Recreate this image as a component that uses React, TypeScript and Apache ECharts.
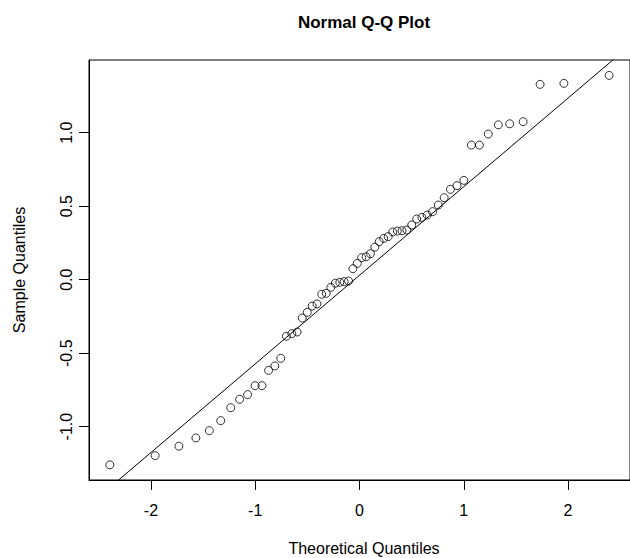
import React, { useEffect, useRef } from "react";
import * as echarts from "echarts";

const theoretical = [
  -2.394, -1.96, -1.732, -1.569, -1.44, -1.331, -1.235, -1.15, -1.073, -1.001,
  -0.935, -0.872, -0.812, -0.755, -0.701, -0.649, -0.598, -0.549, -0.501, -0.454,
  -0.408, -0.363, -0.319, -0.275, -0.232, -0.189, -0.147, -0.105, -0.063, -0.021,
  0.021, 0.063, 0.105, 0.147, 0.189, 0.232, 0.275, 0.319, 0.363, 0.408,
  0.454, 0.501, 0.549, 0.598, 0.649, 0.701, 0.755, 0.812, 0.872, 0.935,
  1.001, 1.073, 1.15, 1.235, 1.331, 1.44, 1.569, 1.732, 1.96, 2.394,
];
const sample = [
  -1.26, -1.197, -1.133, -1.077, -1.027, -0.959, -0.871, -0.814, -0.782, -0.721,
  -0.721, -0.617, -0.587, -0.535, -0.385, -0.367, -0.356, -0.261, -0.222, -0.179,
  -0.165, -0.099, -0.093, -0.052, -0.024, -0.018, -0.013, -0.009, 0.075, 0.111,
  0.15, 0.156, 0.177, 0.222, 0.259, 0.281, 0.293, 0.325, 0.331, 0.333,
  0.338, 0.372, 0.413, 0.424, 0.44, 0.463, 0.508, 0.558, 0.615, 0.64,
  0.676, 0.916, 0.916, 0.991, 1.054, 1.061, 1.075, 1.329, 1.336, 1.39,
];
const xTicks = [-2, -1, 0, 1, 2];
const yTicks = [-1, -0.5, 0, 0.5, 1];
const lineIntercept = 0.03;
const lineSlope = 0.603;
const lineXs = [-3, 3];

const FONT = "Liberation Sans, Arial, sans-serif";

export default function App() {
  const ref = useRef<HTMLDivElement>(null);
  useEffect(() => {
    document.body.style.margin = "0";
    const chart = echarts.init(ref.current!, null, { renderer: "svg" });
    chart.setOption({
      animation: false,
      backgroundColor: "#fff",
      grid: {
        left: 89, top: 60, width: 550, height: 420,
        show: true, borderColor: "#000", borderWidth: 1, backgroundColor: "transparent",
      },
      xAxis: {
        type: "value", min: -2.594, max: 2.594,
        splitLine: { show: false },
        axisLine: { show: true, onZero: false, lineStyle: { color: "#000" } },
        axisTick: { show: true, length: 10, lineStyle: { color: "#000" }, customValues: xTicks },
        axisLabel: { customValues: xTicks, margin: 22, color: "#000", fontSize: 16, fontFamily: FONT },
      },
      yAxis: {
        type: "value", min: -1.363, max: 1.495,
        splitLine: { show: false },
        axisLine: { show: true, onZero: false, lineStyle: { color: "#000" } },
        axisTick: { show: true, length: 10, lineStyle: { color: "#000" }, customValues: yTicks },
        axisLabel: {
          customValues: yTicks, margin: 15, rotate: 90, color: "#000", fontSize: 16, fontFamily: FONT,
          formatter: (v: number) => v.toFixed(1),
        },
      },
      series: [
        {
          type: "line",
          data: lineXs.map((x) => [x, lineIntercept + lineSlope * x]),
          showSymbol: false, clip: true,
          lineStyle: { color: "#000", width: 1 },
        },
        {
          type: "scatter",
          data: theoretical.map((x, i) => [x, sample[i]]),
          symbol: "circle", symbolSize: 8,
          itemStyle: { color: "rgba(255,255,255,0)", borderColor: "#000", borderWidth: 1 },
        },
      ],
      graphic: [
        { type: "text", x: 364, y: 22, style: { text: "Normal Q-Q Plot", font: `bold 17px ${FONT}`, fill: "#000", align: "center", verticalAlign: "middle" } },
        { type: "text", x: 364, y: 548, style: { text: "Theoretical Quantiles", font: `16px ${FONT}`, fill: "#000", align: "center", verticalAlign: "middle" } },
        { type: "text", x: 19, y: 270, rotation: Math.PI / 2, style: { text: "Sample Quantiles", font: `16px ${FONT}`, fill: "#000", align: "center", verticalAlign: "middle" } },
      ],
    });
    return () => chart.dispose();
  }, []);
  return <div ref={ref} style={{ width: 630, height: 558 }} />;
}
